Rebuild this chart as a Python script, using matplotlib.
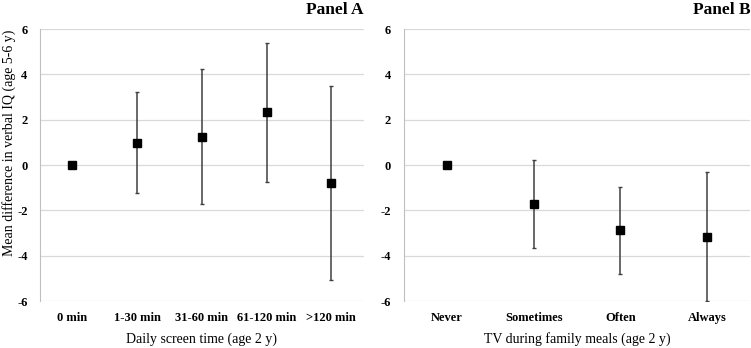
import matplotlib
matplotlib.use("Agg")
import matplotlib.pyplot as plt

# Panel A: daily screen time at age 2
screen_cats = ['0 min', '1-30 min', '31-60 min', '61-120 min', '>120 min']
screen_mean = [0.0, 0.98, 1.25, 2.33, -0.79]
screen_lo = [0.0, -1.22, -1.73, -0.74, -5.07]
screen_hi = [0.0, 3.20, 4.25, 5.40, 3.50]

# Panel B: TV during family meals at age 2
tv_cats = ['Never', 'Sometimes', 'Often', 'Always']
tv_mean = [0.0, -1.74, -2.87, -3.18]
tv_lo = [0.0, -3.66, -4.79, -6.0]
tv_hi = [0.0, 0.21, -0.96, -0.32]

plt.rcParams['font.family'] = ['Liberation Serif', 'DejaVu Serif']
plt.rcParams['axes.unicode_minus'] = False

fig = plt.figure(figsize=(7.51, 3.48), dpi=100)
ax_a = fig.add_axes([0.0533, 0.135, 0.431, 0.7816])
ax_b = fig.add_axes([0.5375, 0.135, 0.4618, 0.7816])


def draw_panel(ax, cats, mean, lo, hi, xlabel, title):
    x = list(range(len(cats)))
    yerr = [[m - l for m, l in zip(mean, lo)], [h - m for m, h in zip(mean, hi)]]
    ax.errorbar(x, mean, yerr=yerr, fmt='s', color='black', markersize=5.5,
                ecolor='#404040', elinewidth=1.1, capsize=1.5, capthick=1, zorder=3)
    ax.set_xlim(-0.5, len(cats) - 0.5)
    ax.set_ylim(-6, 6)
    ax.set_yticks(range(-6, 7, 2))
    ax.set_xticks(x)
    ax.set_xticklabels(cats, fontweight='bold', fontsize=9)
    for lab in ax.get_yticklabels():
        lab.set_fontweight('bold')
        lab.set_fontsize(9)
    ax.grid(axis='y', color='#d9d9d9', linewidth=0.9)
    ax.set_axisbelow(True)
    for s in ['top', 'right', 'bottom']:
        ax.spines[s].set_visible(False)
    ax.spines['left'].set_color('#bfbfbf')
    ax.tick_params(axis='x', length=0, pad=8)
    ax.tick_params(axis='y', length=0, pad=9)
    ax.set_xlabel(xlabel, fontsize=10, labelpad=6)
    ax.text(1.0, 1.04, title, transform=ax.transAxes, ha='right', va='bottom',
            fontsize=12.5, fontweight='bold')


draw_panel(ax_a, screen_cats, screen_mean, screen_lo, screen_hi,
           'Daily screen time (age 2 y)', 'Panel A')
draw_panel(ax_b, tv_cats, tv_mean, tv_lo, tv_hi,
           'TV during family meals (age 2 y)', 'Panel B')

fig.text(0.012, 0.59, 'Mean difference in verbal IQ (age 5-6 y)', rotation=90,
         ha='center', va='center', fontsize=10)

fig.savefig('out.png', dpi=100)
